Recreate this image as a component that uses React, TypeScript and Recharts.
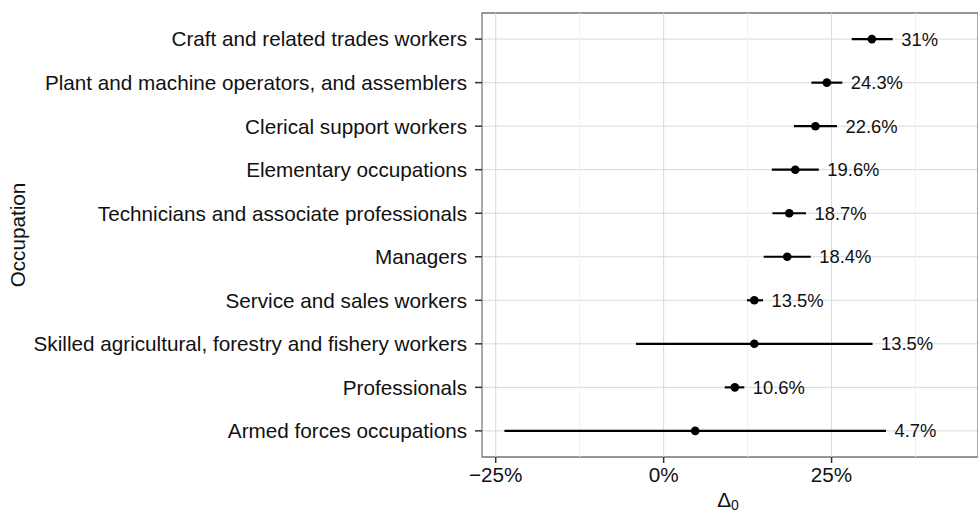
import React from 'react';
import {
  ComposedChart,
  Scatter,
  XAxis,
  YAxis,
  CartesianGrid,
  ErrorBar,
  LabelList,
  ReferenceLine,
  ReferenceArea,
} from 'recharts';

// Occupations, top to bottom
const occupations = [
  'Craft and related trades workers',
  'Plant and machine operators, and assemblers',
  'Clerical support workers',
  'Elementary occupations',
  'Technicians and associate professionals',
  'Managers',
  'Service and sales workers',
  'Skilled agricultural, forestry and fishery workers',
  'Professionals',
  'Armed forces occupations',
];
const estimates = [31, 24.3, 22.6, 19.6, 18.7, 18.4, 13.5, 13.5, 10.6, 4.7];
const lowerBounds = [28.0, 22.0, 19.4, 16.1, 16.2, 14.9, 12.4, -4.1, 9.1, -23.7];
const upperBounds = [34.1, 26.6, 25.8, 23.1, 21.2, 21.9, 14.8, 31.1, 12.0, 33.1];

const xTicks = [-25, 0, 25];
const xMinorTicks = [-12.5, 12.5, 37.5];
const xDomain = [-27.04, 46.8];
const yDomain = [0.4, 10.6];

const positions = occupations.map((_, i) => i + 1);

const pointData = occupations.map((name, i) => ({
  name,
  pos: i + 1,
  est: estimates[i],
  err: [estimates[i] - lowerBounds[i], upperBounds[i] - estimates[i]],
}));

const labelData = occupations.map((name, i) => ({
  name,
  pos: i + 1,
  hi: upperBounds[i],
  label: `${estimates[i]}%`,
}));

const FONT = 'Liberation Sans, Arial, sans-serif';
const AXIS_FS = 20.7;
const LABEL_FS = 18.4;

const fmtPct = (v: number) => (v < 0 ? `\u2212${Math.abs(v)}%` : `${v}%`);

const Dot = (props: any) => {
  const { cx, cy } = props;
  if (cx == null || cy == null) return null;
  return <circle cx={cx} cy={cy} r={4.3} fill="#000" />;
};

const NoShape = () => <g />;

export default function App() {
  return (
    <div style={{ position: 'absolute', left: 0, top: 0, width: 978, height: 512, background: '#fff' }}>
      <ComposedChart
        width={978}
        height={512}
        margin={{ top: 13, right: 0, bottom: 0, left: 0 }}
        style={{ fontFamily: FONT }}
      >
        <CartesianGrid vertical={false} horizontal={true} stroke="#d9d9d9" strokeWidth={1} />
        {xMinorTicks.map((v) => (
          <ReferenceLine key={`m${v}`} xAxisId="main" x={v} stroke="#efefef" strokeWidth={1} />
        ))}
        {xTicks.map((v) => (
          <ReferenceLine key={`M${v}`} xAxisId="main" x={v} stroke="#d9d9d9" strokeWidth={1} />
        ))}
        <XAxis
          xAxisId="main"
          type="number"
          dataKey="est"
          domain={xDomain}
          ticks={xTicks}
          allowDataOverflow
          tickFormatter={fmtPct}
          height={55}
          axisLine={false}
          tickLine={{ stroke: '#333', strokeWidth: 1.5 }}
          tickSize={6}
          tickMargin={4}
          tick={{ fill: '#111', fontSize: AXIS_FS, fontFamily: FONT }}
          label={(props: any) => {
            const vb = props.viewBox;
            const cx = vb.x + vb.width / 2;
            return (
              <text x={cx - 2} y={vb.y + 50} textAnchor="middle" fill="#111" fontSize={AXIS_FS} fontFamily={FONT}>
                {'\u0394'}
                <tspan fontSize={14} dy={3}>0</tspan>
              </text>
            );
          }}
        />
        <XAxis
          xAxisId="lab"
          orientation="top"
          type="number"
          dataKey="hi"
          domain={xDomain}
          allowDataOverflow
          height={0}
          hide
        />
        <YAxis
          type="number"
          dataKey="pos"
          domain={yDomain}
          ticks={positions}
          reversed
          allowDataOverflow
          width={482}
          tickFormatter={(v: number) => occupations[v - 1]}
          axisLine={false}
          tickLine={{ stroke: '#333', strokeWidth: 1.5 }}
          tickSize={7}
          tickMargin={8}
          tick={{ fill: '#111', fontSize: AXIS_FS, fontFamily: FONT }}
          label={(props: any) => {
            const vb = props.viewBox;
            const cy = vb.y + vb.height / 2;
            return (
              <text
                x={25}
                y={cy}
                transform={`rotate(-90, 25, ${cy})`}
                textAnchor="middle"
                fill="#111"
                fontSize={AXIS_FS}
                fontFamily={FONT}
              >
                Occupation
              </text>
            );
          }}
        />
        <ReferenceArea
          xAxisId="main"
          x1={xDomain[0]}
          x2={xDomain[1]}
          y1={yDomain[0]}
          y2={yDomain[1]}
          fill="none"
          stroke="#7a7a7a"
          strokeWidth={1.3}
          ifOverflow="visible"
        />
        <Scatter xAxisId="main" data={pointData} dataKey="est" shape={Dot} isAnimationActive={false}>
          <ErrorBar dataKey="err" direction="x" width={0} stroke="#000" strokeWidth={2.2} isAnimationActive={false} />
        </Scatter>
        <Scatter xAxisId="lab" data={labelData} dataKey="hi" shape={NoShape} isAnimationActive={false}>
          <LabelList
            dataKey="label"
            position="right"
            offset={4}
            fill="#111"
            fontSize={LABEL_FS}
            fontFamily={FONT}
          />
        </Scatter>
      </ComposedChart>
    </div>
  );
}
